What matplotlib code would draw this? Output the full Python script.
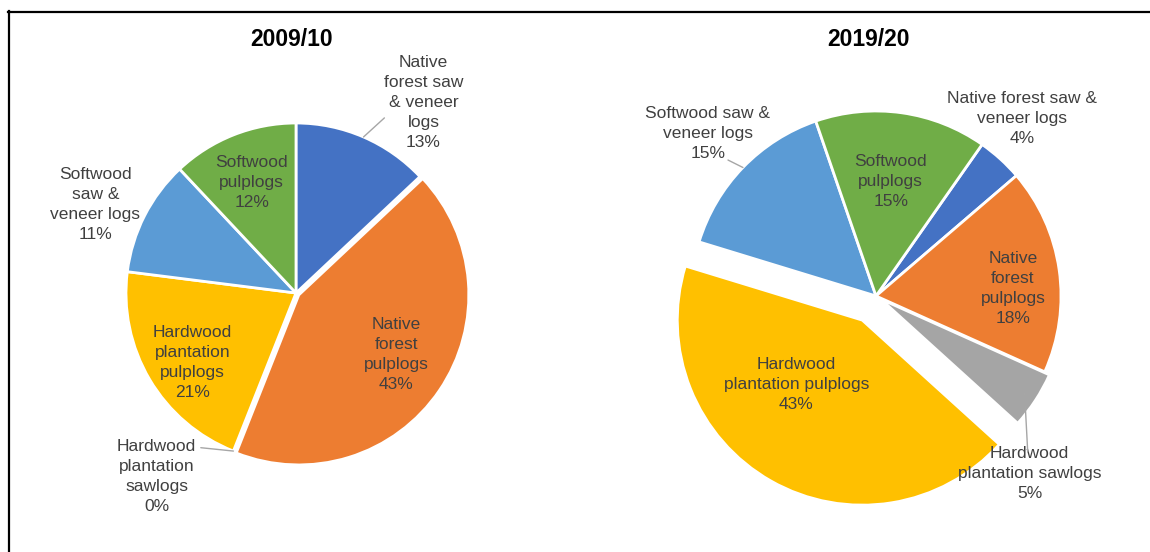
import numpy as np
import matplotlib.pyplot as plt
from matplotlib.lines import Line2D

plt.rcParams['font.family'] = ['Liberation Sans', 'DejaVu Sans']

# data
categories = ['Native forest saw & veneer logs', 'Native forest pulplogs',
              'Hardwood plantation sawlogs', 'Hardwood plantation pulplogs',
              'Softwood saw & veneer logs', 'Softwood pulplogs']
share_2009 = [13, 43, 0, 21, 11, 12]
share_2019 = [4, 18, 5, 43, 15, 15]
colors = ['#4472C4', '#ED7D31', '#A5A5A5', '#FFC000', '#5B9BD5', '#70AD47']

labels_2009 = ['Native\nforest saw\n& veneer\nlogs', 'Native\nforest\npulplogs',
               'Hardwood\nplantation\nsawlogs', 'Hardwood\nplantation\npulplogs',
               'Softwood\nsaw &\nveneer logs', 'Softwood\npulplogs']
labels_2019 = ['Native forest saw &\nveneer logs', 'Native\nforest\npulplogs',
               'Hardwood\nplantation sawlogs', 'Hardwood\nplantation pulplogs',
               'Softwood saw &\nveneer logs', 'Softwood\npulplogs']

W, H = 1150, 552
fig = plt.figure(figsize=(W / 100, H / 100), dpi=100)
txt = '#404040'


def make_ax(x0, x1, y0, y1, cx, cy, R):
    # panel in pixel coords, pie of radius 1 maps to R pixels
    ax = fig.add_axes([x0 / W, 1 - y1 / H, (x1 - x0) / W, (y1 - y0) / H])
    return ax, ((x0 - cx) / R, (x1 - cx) / R), ((cy - y1) / R, (cy - y0) / R)


def draw(ax, xl, yl, values, labels, start, explode, lab_pos, leaders, title, tpos):
    wedges, _ = ax.pie(values, colors=colors, startangle=start, counterclock=False,
                       explode=explode, radius=1,
                       wedgeprops=dict(edgecolor='white', linewidth=2))
    ax.set_xlim(*xl)
    ax.set_ylim(*yl)
    ax.set_aspect('auto')
    ax.set_axis_on()
    ax.set_xticks([])
    ax.set_yticks([])
    for s in ax.spines.values():
        s.set_color('#f2f2f2')
        s.set_linewidth(0.8)
    for lab, v, (px, py) in zip(labels, values, lab_pos):
        ax.text(px, py, f'{lab}\n{v}%', ha='center', va='center', fontsize=12.5,
                color=txt, linespacing=1.42)
    for i, (ex, ey, rr) in leaders.items():
        w = wedges[i]
        a = np.deg2rad((w.theta1 + w.theta2) / 2)
        cx, cy = w.center
        ax.annotate('', xy=(cx + rr * np.cos(a), cy + rr * np.sin(a)), xytext=(ex, ey),
                    arrowprops=dict(arrowstyle='-', color='#a6a6a6', lw=1,
                                    shrinkA=0, shrinkB=0))
    ax.text(tpos[0], tpos[1], title, ha='center', va='center', fontsize=16.5,
            fontweight='bold', color='black')


ax1, xl1, yl1 = make_ax(33, 548, 12, 523, 296, 293, 170)
draw(ax1, xl1, yl1, share_2009, labels_2009, 90, [0, 0.02, 0, 0, 0, 0],
     [(0.75, 1.12), (0.59, -0.36), (-0.82, -1.08), (-0.61, -0.41),
      (-1.18, 0.52), (-0.26, 0.65)],
     {0: (0.52, 1.03, 1.0), 2: (-0.56, -0.91, 1.0)}, '2009/10', (-0.024, 1.49))

ax2, xl2, yl2 = make_ax(610, 1127, 12, 527, 876, 296, 185)
draw(ax2, xl2, yl2, share_2019, labels_2019, 55, [0, 0, 0.03, 0.15, 0, 0],
     [(0.79, 0.96), (0.74, 0.04), (0.83, -0.96), (-0.43, -0.48),
      (-0.91, 0.88), (0.08, 0.62)],
     {2: (0.82, -0.84, 0.93), 4: (-0.80, 0.735, 1.0)}, '2019/20', (-0.04, 1.384))

# outer frame lines
fig.add_artist(Line2D([8 / W, 1], [1 - 11.5 / H, 1 - 11.5 / H], color='black', lw=1.6))
fig.add_artist(Line2D([8.5 / W, 8.5 / W], [0, 1 - 11 / H], color='black', lw=1.6))

fig.savefig('out.png', dpi=100, facecolor='white')
